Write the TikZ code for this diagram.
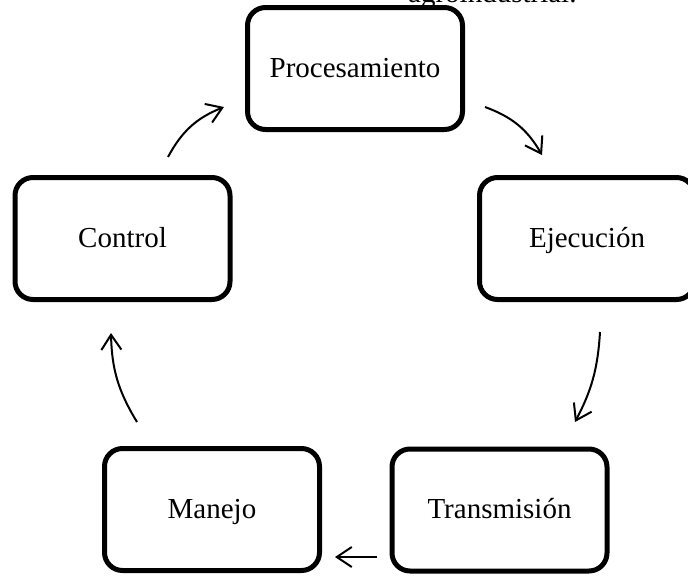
\documentclass[tikz,border=0pt]{standalone}
\usepackage{fontspec}
\setmainfont{Liberation Serif}
\usetikzlibrary{arrows.meta}
\begin{document}
\begin{tikzpicture}[x=1pt,y=-1pt,
  stepbox/.style={draw=black, line width=5pt, rounded corners=18pt,
    minimum width=215pt, minimum height=122pt, inner sep=0pt,
    text height=21pt, text depth=4pt,
    font=\fontsize{29}{34}\selectfont},
  flow/.style={draw=black, line width=2pt,
    -{Straight Barb[length=15pt,width=20pt,line width=2pt]}},
  toptext/.style={font=\fontsize{29}{34}\selectfont, inner sep=0pt, anchor=base west}]
\useasboundingbox (0,0) rectangle (688,576);
\clip (0,0) rectangle (688,576);
\fill[white] (0,0) rectangle (688,576);
\node[toptext] (title) at (408,2) {agroindustrial.};
\node[stepbox] (P) at (355,68.5) {Procesamiento};
\node[stepbox] (C) at (122.5,238.5) {Control};
\node[stepbox] (E) at (587,238.5) {Ejecución};
\node[stepbox] (M) at (212,509.5) {Manejo};
\node[stepbox] (T) at (499.5,510) {Transmisión};
\coordinate (a1s) at (168,157);
\coordinate (a1e) at (224,107);
\coordinate (a2s) at (485,107);
\coordinate (a2e) at (542,155);
\coordinate (a3s) at (600,332);
\coordinate (a3e) at (575,422);
\coordinate (a4s) at (377,557);
\coordinate (a4e) at (335,557);
\coordinate (a5s) at (137,422);
\coordinate (a5e) at (111,333);
\draw[flow] (a1s) to[bend left=20] (a1e);
\draw[flow] (a2s) to[bend left=20] (a2e);
\draw[flow] (a3s) to[bend left=12] (a3e);
\draw[flow] (a4s) -- (a4e);
\draw[flow] (a5s) to[bend left=15] (a5e);
\end{tikzpicture}
\end{document}
